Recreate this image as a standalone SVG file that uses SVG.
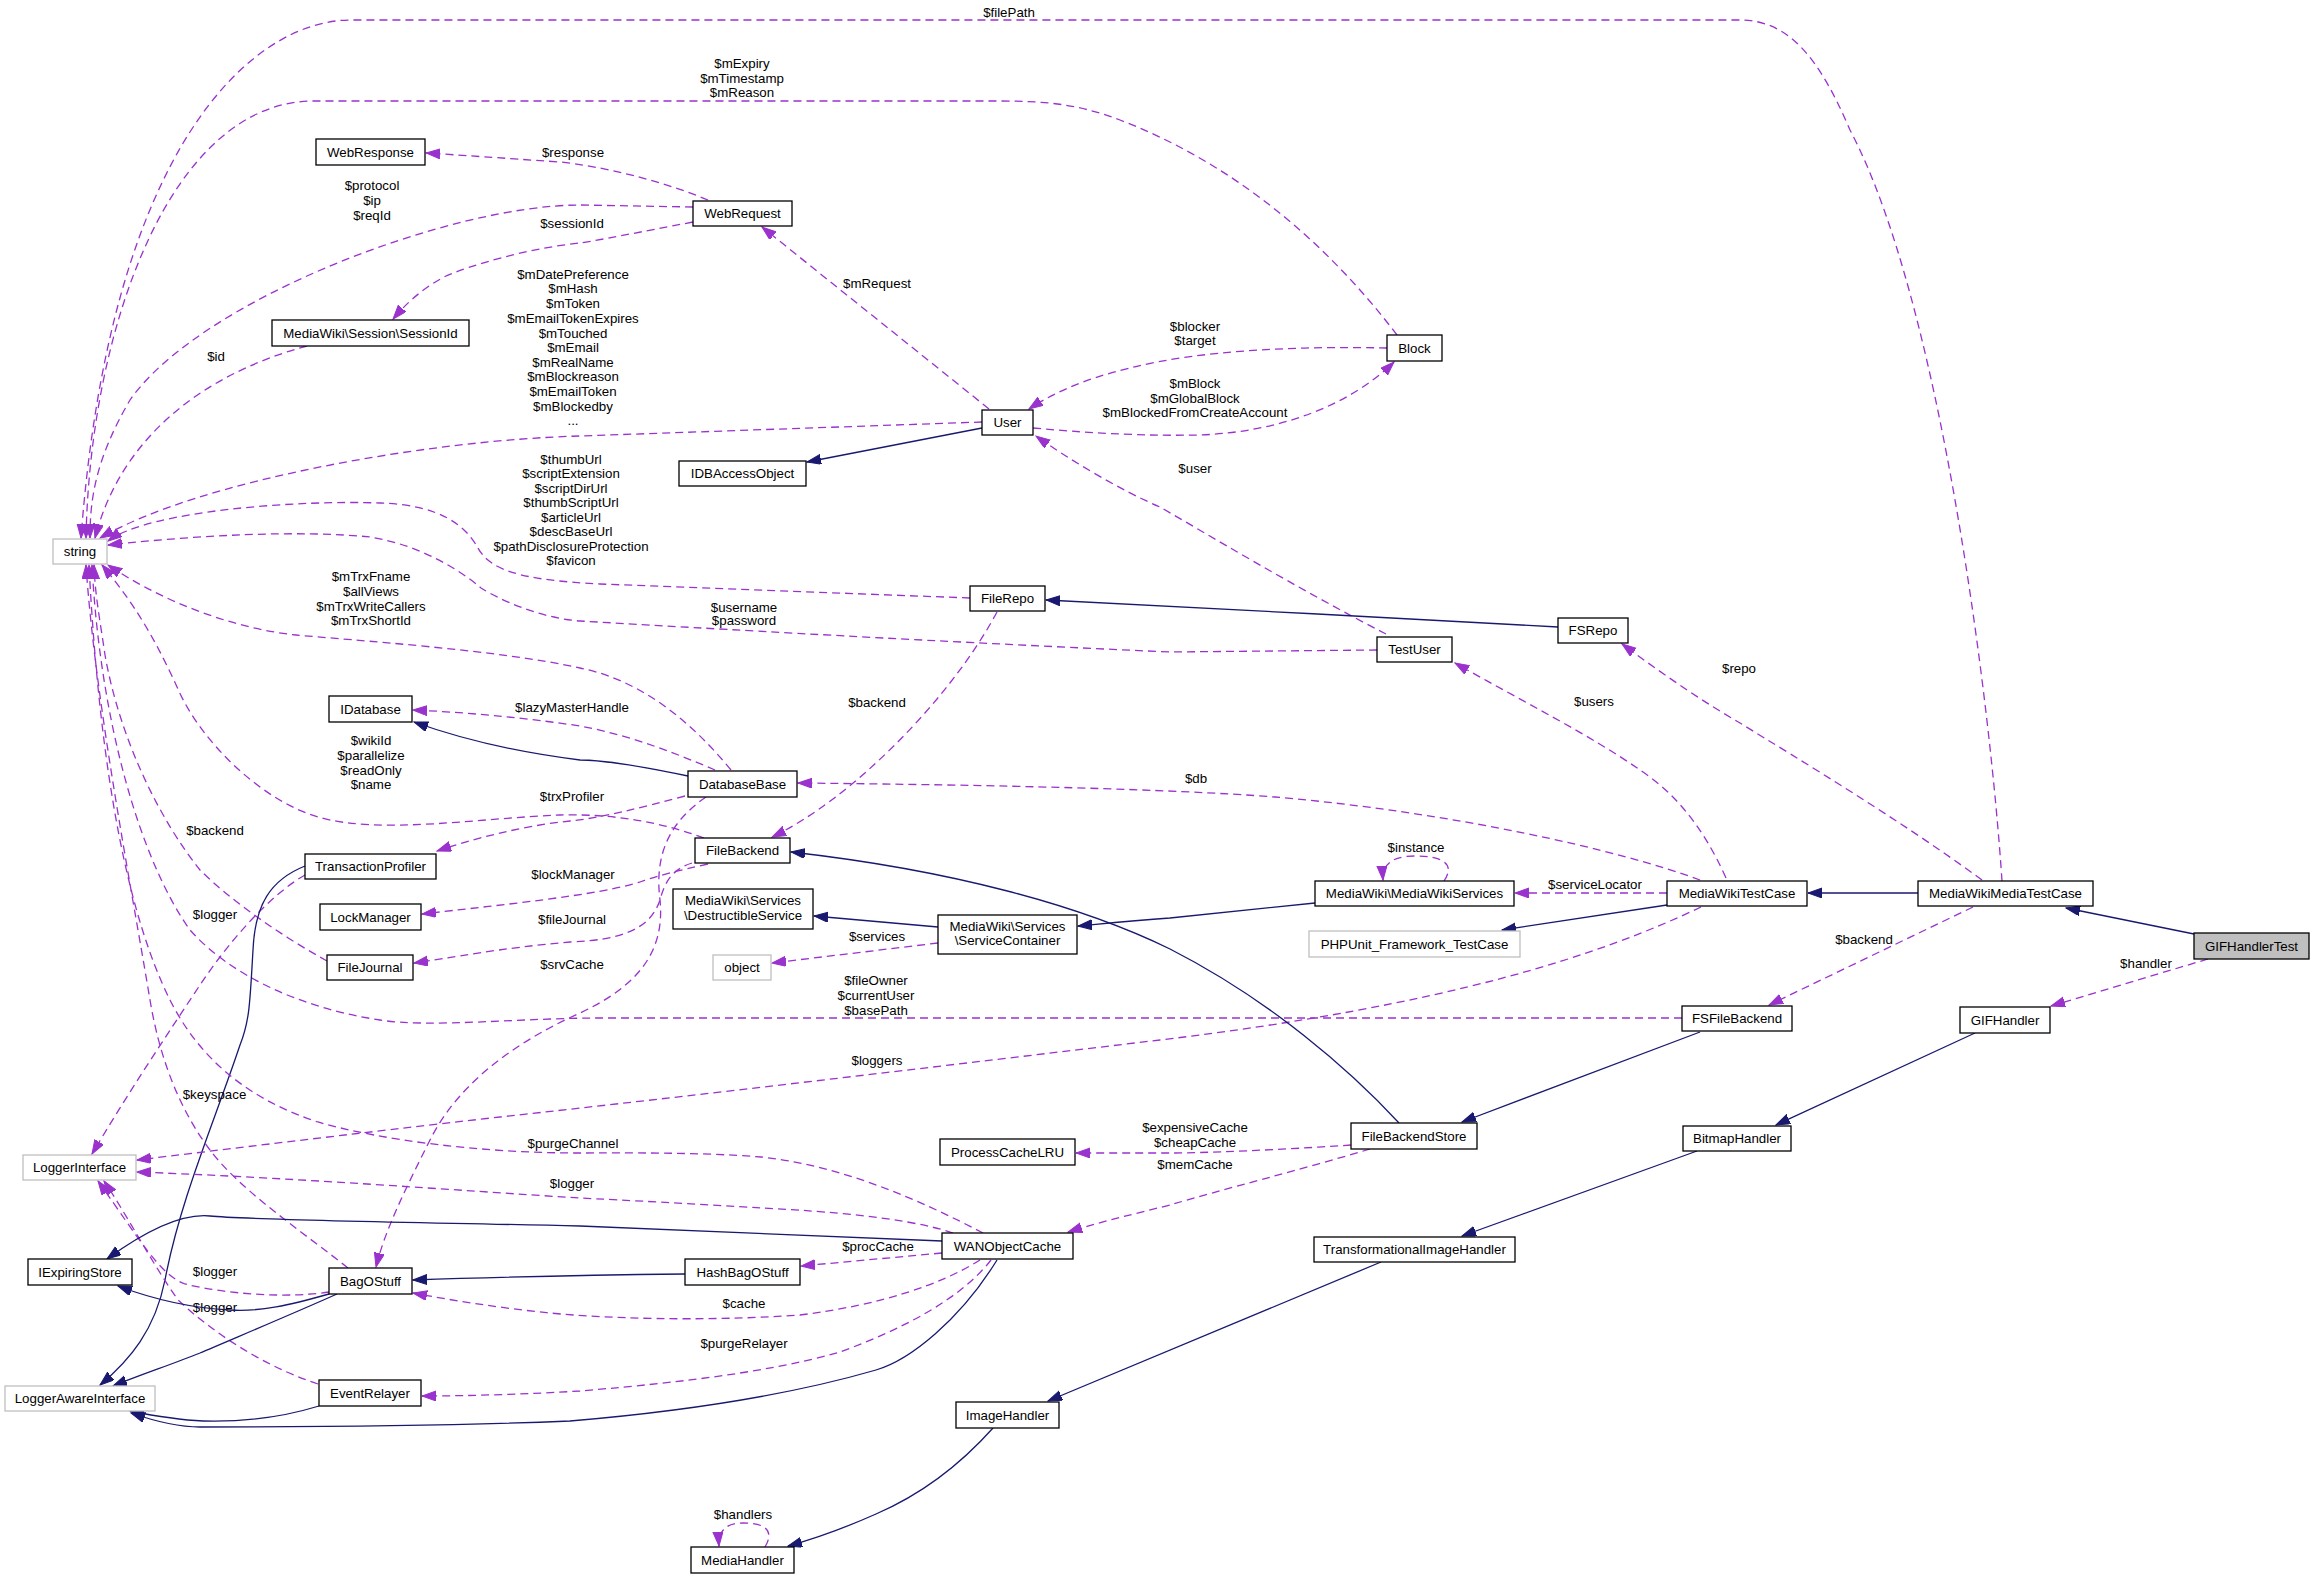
<svg xmlns="http://www.w3.org/2000/svg" width="2315" height="1579" viewBox="0 0 2315 1579">
<style>
.n rect{fill:#fff;stroke:#000;stroke-width:1.3}
.n.g rect{stroke:#bfbfbf}
.n.f rect{fill:#bfbfbf}
text{font-family:"Liberation Sans",Arial,Helvetica,sans-serif;font-size:13.3px;text-anchor:middle;fill:#000}
.u{fill:none;stroke:#9a32cd;stroke-width:1.3;stroke-dasharray:8,5;marker-end:url(#ap)}
.i{fill:none;stroke:#191970;stroke-width:1.3;marker-end:url(#ab)}
</style>
<defs>
<marker id="ap" markerUnits="userSpaceOnUse" markerWidth="15" markerHeight="11" refX="14" refY="5" orient="auto"><path d="M0,0 L14,5 L0,10 z" fill="#9a32cd" stroke="#9a32cd" stroke-width="1"/></marker>
<marker id="ab" markerUnits="userSpaceOnUse" markerWidth="15" markerHeight="11" refX="14" refY="5" orient="auto"><path d="M0,0 L14,5 L0,10 z" fill="#191970" stroke="#191970" stroke-width="1"/></marker>
</defs>
<rect x="0" y="0" width="2315" height="1579" fill="#fff"/>
<g id="connectors">
<g><path class="u" d="M1397,335 C1340,260 1250,170 1120,120 C1080,105 1050,101 1000,101 L314,101 C170,101 90,330 86,538"/><text x="742" y="68">$mExpiry</text><text x="742" y="82.5">$mTimestamp</text><text x="742" y="97">$mReason</text></g>
<g><path class="u" d="M2002,881 C1990,700 1940,300 1850,130 C1820,60 1790,20 1740,20 L351,20 C250,20 110,150 81,538"/><text x="1009" y="16.5">$filePath</text></g>
<g><path class="u" d="M708,200 C660,180 600,166 560,162 C500,158 460,155 426,153"/><text x="573" y="156.5">$response</text></g>
<g><path class="u" d="M693,207 L580,205 C450,205 200,300 130,400 C95,460 90,500 90,538"/><text x="372" y="189.5">$protocol</text><text x="372" y="204.5">$ip</text><text x="372" y="219.5">$reqId</text></g>
<g><path class="u" d="M693,222 C640,232 600,240 580,243 C530,248 470,265 444,277 C420,290 405,305 393,319"/><text x="572" y="227.5">$sessionId</text></g>
<g><path class="u" d="M307,346 C200,375 120,440 95,538"/><text x="216" y="360.5">$id</text></g>
<g><path class="u" d="M989,409 L762,227"/><text x="877" y="287.5">$mRequest</text></g>
<g><path class="u" d="M1033,428 C1100,434 1150,436 1200,435 C1280,432 1350,405 1394,362"/><text x="1195" y="388">$mBlock</text><text x="1195" y="403">$mGlobalBlock</text><text x="1195" y="417">$mBlockedFromCreateAccount</text></g>
<g><path class="u" d="M1387,348 C1300,346 1200,350 1130,368 C1080,380 1050,395 1029,409"/><text x="1195" y="331">$blocker</text><text x="1195" y="345">$target</text></g>
<g><path class="u" d="M982,422 L580,436 C430,440 200,480 100,538"/><text x="573" y="279">$mDatePreference</text><text x="573" y="292.5">$mHash</text><text x="573" y="307.5">$mToken</text><text x="573" y="322.5">$mEmailTokenExpires</text><text x="573" y="337.5">$mTouched</text><text x="573" y="352">$mEmail</text><text x="573" y="366.5">$mRealName</text><text x="573" y="381">$mBlockreason</text><text x="573" y="395.5">$mEmailToken</text><text x="573" y="410.5">$mBlockedby</text><text x="573" y="425">...</text></g>
<g><path class="i" d="M982,428 L807,462"/></g>
<g><path class="u" d="M1386,634 C1300,590 1200,530 1160,507 C1120,490 1070,460 1036,436"/><text x="1195" y="473">$user</text></g>
<g><path class="u" d="M970,598 L600,584 C520,580 490,570 478,548 C465,525 440,505 380,503 C300,500 150,510 108,541"/><text x="571" y="463.5">$thumbUrl</text><text x="571" y="478">$scriptExtension</text><text x="571" y="492.5">$scriptDirUrl</text><text x="571" y="507">$thumbScriptUrl</text><text x="571" y="521.5">$articleUrl</text><text x="571" y="536">$descBaseUrl</text><text x="571" y="550.5">$pathDisclosureProtection</text><text x="571" y="565">$favicon</text></g>
<g><path class="u" d="M1377,650 L1170,652 C900,640 650,625 580,621 C540,618 500,600 481,588 C460,570 420,545 370,537 C300,530 200,535 108,545"/><text x="744" y="611.5">$username</text><text x="744" y="625">$password</text></g>
<g><path class="i" d="M1558,627 C1400,618 1200,608 1046,600"/></g>
<g><path class="u" d="M997,612 C950,700 850,800 772,837"/><text x="877" y="707">$backend</text></g>
<g><path class="u" d="M731,770 C690,720 640,680 580,668 C500,650 350,640 296,635 C230,628 160,600 108,565"/><text x="371" y="581">$mTrxFname</text><text x="371" y="595.5">$allViews</text><text x="371" y="611">$mTrxWriteCallers</text><text x="371" y="625">$mTrxShortId</text></g>
<g><path class="u" d="M715,770 C680,755 630,735 580,726 C520,717 460,712 413,710"/><text x="572" y="712">$lazyMasterHandle</text></g>
<g><path class="i" d="M688,776 C640,766 600,760 580,760 C500,750 450,735 414,722"/></g>
<g><path class="u" d="M704,838 C650,818 600,814 560,815 C480,818 380,835 318,817 C260,800 200,740 178,689 C160,650 140,610 102,565"/><text x="371" y="744.5">$wikiId</text><text x="371" y="760">$parallelize</text><text x="371" y="775">$readOnly</text><text x="371" y="789">$name</text></g>
<g><path class="u" d="M685,796 C640,808 600,818 570,821 C520,826 470,840 437,851"/><text x="572" y="801">$trxProfiler</text></g>
<g><path class="u" d="M708,864 C680,870 660,875 640,882 C600,895 500,905 422,914"/><text x="573" y="878.5">$lockManager</text></g>
<g><path class="u" d="M692,863 C670,870 664,885 660,900 C650,930 620,940 570,942 C500,948 450,958 414,963"/><text x="572" y="923.5">$fileJournal</text></g>
<g><path class="u" d="M706,797 C665,825 655,860 660,900 C665,950 640,985 580,1013 C520,1040 460,1080 430,1140 C405,1190 385,1230 376,1267"/><text x="572" y="969">$srvCache</text></g>
<g><path class="u" d="M1682,1018 L600,1018 C520,1018 430,1028 380,1020 C300,1008 230,975 190,930 C140,860 100,720 92,565"/><text x="876" y="984.5">$fileOwner</text><text x="876" y="1000">$currentUser</text><text x="876" y="1014.5">$basePath</text></g>
<g><path class="u" d="M327,961 C280,935 230,900 200,870 C160,820 120,740 105,655 C100,620 95,595 94,565"/><text x="215" y="834.5">$backend</text></g>
<g><path class="u" d="M305,875 C270,895 230,940 200,985 C170,1030 130,1090 92,1154"/><text x="215" y="919">$logger</text></g>
<g><path class="i" d="M305,866 C270,880 255,905 253,950 C250,1000 250,1020 240,1045 C215,1120 180,1200 165,1280 C155,1330 130,1360 100,1385"/></g>
<g><path class="u" d="M348,1268 C300,1230 240,1190 210,1150 C180,1110 160,1060 150,1000 C130,880 95,700 86,565"/><text x="214.5" y="1098.5">$keyspace</text></g>
<g><path class="u" d="M983,1233 C920,1200 840,1165 761,1157 C700,1152 620,1153 580,1153 C480,1153 380,1140 318,1122 C250,1100 200,1060 170,1000 C130,920 100,780 89,565"/><text x="573" y="1147.5">$purgeChannel</text></g>
<g><path class="u" d="M329,1292 C290,1298 230,1295 185,1284 C160,1275 140,1240 98,1181"/><text x="215" y="1275.5">$logger</text></g>
<g><path class="u" d="M318,1384 C260,1365 210,1330 178,1300 C150,1260 130,1220 104,1181"/><text x="215" y="1312">$logger</text></g>
<g><path class="u" d="M953,1233 C900,1215 800,1210 761,1208 C700,1204 620,1200 580,1198 C450,1190 300,1178 137,1172"/><text x="572" y="1187.5">$logger</text></g>
<g><path class="u" d="M1701,907 C1600,955 1450,1005 1160,1040 C950,1065 700,1095 500,1117 C350,1134 220,1150 137,1160"/><text x="877" y="1065">$loggers</text></g>
<g><path class="u" d="M980,1260 C940,1285 880,1305 800,1315 C700,1322 600,1318 550,1313 C500,1308 450,1300 413,1293"/><text x="744" y="1307.5">$cache</text></g>
<g><path class="u" d="M991,1260 C960,1300 900,1330 840,1352 C760,1375 650,1385 580,1391 C530,1394 470,1396 422,1396"/><text x="744" y="1348">$purgeRelayer</text></g>
<g><path class="u" d="M942,1253 L801,1266"/><text x="878" y="1250.5">$procCache</text></g>
<g><path class="i" d="M942,1241 L580,1226 C400,1222 250,1220 210,1216 C180,1213 140,1235 107,1259"/></g>
<g><path class="i" d="M685,1274 C600,1275 500,1277 413,1280"/></g>
<g><path class="i" d="M329,1294 C290,1305 260,1312 230,1310 C190,1308 150,1298 118,1286"/></g>
<g><path class="i" d="M337,1294 C290,1315 230,1340 200,1353 C170,1365 140,1375 113,1386"/></g>
<g><path class="i" d="M319,1406 C280,1418 240,1422 203,1421 C180,1420 155,1416 130,1411"/></g>
<g><path class="i" d="M997,1260 C960,1320 910,1360 876,1370 C800,1392 700,1410 570,1421 C450,1426 300,1427 200,1427 C180,1427 160,1423 131,1413"/></g>
<g><path class="i" d="M1399,1123 C1350,1070 1270,1000 1170,949 C1080,905 950,870 791,852"/></g>
<g><path class="i" d="M1700,1032 L1462,1122"/></g>
<g><path class="u" d="M1351,1145 C1280,1150 1200,1153 1170,1153 L1076,1153"/><text x="1195" y="1131.5">$expensiveCache</text><text x="1195" y="1147">$cheapCache</text></g>
<g><path class="u" d="M1370,1149 C1300,1170 1220,1190 1170,1205 C1130,1215 1100,1222 1068,1232"/><text x="1195" y="1169">$memCache</text></g>
<g><path class="i" d="M1667,905 L1502,930"/></g>
<g><path class="u" d="M1667,893 L1515,893"/><text x="1595" y="888.5">$serviceLocator</text></g>
<g><path class="u" d="M1444,881 C1455,865 1445,856 1415,856 C1390,856 1382,866 1383,880"/><text x="1416" y="851.5">$instance</text></g>
<g><path class="i" d="M1315,903 C1250,910 1200,915 1170,918 C1130,921 1100,924 1078,926"/></g>
<g><path class="i" d="M938,927 L814,916"/></g>
<g><path class="u" d="M938,943 L772,963"/><text x="877" y="941">$services</text></g>
<g><path class="u" d="M1700,880 C1620,850 1450,812 1275,797 C1170,789 1000,785 798,783"/><text x="1196" y="783">$db</text></g>
<g><path class="u" d="M1726,878 C1700,820 1670,790 1640,770 C1590,735 1520,700 1455,663"/><text x="1594" y="705.5">$users</text></g>
<g><path class="u" d="M1982,880 C1900,820 1800,760 1740,723 C1700,700 1660,672 1622,644"/><text x="1739" y="673">$repo</text></g>
<g><path class="i" d="M1918,893 L1808,893"/></g>
<g><path class="i" d="M2194,934 L2066,908"/></g>
<g><path class="u" d="M1973,907 L1769,1005"/><text x="1864" y="943.5">$backend</text></g>
<g><path class="u" d="M2208,959 L2051,1006"/><text x="2146" y="968">$handler</text></g>
<g><path class="i" d="M1975,1033 L1776,1125"/></g>
<g><path class="i" d="M1697,1151 L1462,1236"/></g>
<g><path class="i" d="M1381,1262 L1048,1401"/></g>
<g><path class="i" d="M993,1428 C960,1465 920,1495 876,1514 C840,1530 810,1540 788,1546"/></g>
<g><path class="u" d="M765,1547 C775,1530 765,1523 743,1523 C725,1523 718,1532 719,1546"/><text x="743" y="1519">$handlers</text></g>
</g>
<g id="n_GIFHandlerTest" class="n f"><rect x="2194" y="933" width="115" height="26"/><text x="2251.5" y="950.6">GIFHandlerTest</text></g>
<g id="n_MediaWikiMediaTestCase" class="n"><rect x="1918" y="881" width="175" height="25"/><text x="2005.5" y="898">MediaWikiMediaTestCase</text></g>
<g id="n_MediaWikiTestCase" class="n"><rect x="1667" y="881" width="140" height="25"/><text x="1737" y="898">MediaWikiTestCase</text></g>
<g id="n_FSRepo" class="n"><rect x="1558" y="618" width="70" height="25"/><text x="1593" y="635">FSRepo</text></g>
<g id="n_FileRepo" class="n"><rect x="970" y="586" width="75" height="25"/><text x="1007.5" y="603">FileRepo</text></g>
<g id="n_string" class="n g"><rect x="53" y="539" width="54" height="25"/><text x="80" y="556">string</text></g>
<g id="n_Block" class="n"><rect x="1387" y="335" width="55" height="26"/><text x="1414.5" y="352.6">Block</text></g>
<g id="n_User" class="n"><rect x="982" y="410" width="51" height="25"/><text x="1007.5" y="427">User</text></g>
<g id="n_WebRequest" class="n"><rect x="693" y="201" width="99" height="25"/><text x="742.5" y="218">WebRequest</text></g>
<g id="n_WebResponse" class="n"><rect x="316" y="139" width="109" height="26"/><text x="370.5" y="156.6">WebResponse</text></g>
<g id="n_SessionId" class="n"><rect x="272" y="320" width="197" height="26"/><text x="370.5" y="337.6">MediaWiki\Session\SessionId</text></g>
<g id="n_IDBAccessObject" class="n"><rect x="679" y="461" width="127" height="25"/><text x="742.5" y="478">IDBAccessObject</text></g>
<g id="n_TestUser" class="n"><rect x="1377" y="637" width="75" height="25"/><text x="1414.5" y="654">TestUser</text></g>
<g id="n_DatabaseBase" class="n"><rect x="688" y="771" width="109" height="26"/><text x="742.5" y="788.6">DatabaseBase</text></g>
<g id="n_IDatabase" class="n"><rect x="329" y="696" width="83" height="26"/><text x="370.5" y="713.6">IDatabase</text></g>
<g id="n_TransactionProfiler" class="n"><rect x="305" y="854" width="131" height="25"/><text x="370.5" y="871">TransactionProfiler</text></g>
<g id="n_LockManager" class="n"><rect x="320" y="904" width="101" height="26"/><text x="370.5" y="921.6">LockManager</text></g>
<g id="n_FileJournal" class="n"><rect x="327" y="955" width="86" height="25"/><text x="370" y="972">FileJournal</text></g>
<g id="n_FileBackend" class="n"><rect x="695" y="838" width="95" height="25"/><text x="742.5" y="855">FileBackend</text></g>
<g id="n_DestructibleService" class="n"><rect x="673" y="889" width="140" height="40"/><text x="743" y="904.5">MediaWiki\Services</text><text x="743" y="920">\DestructibleService</text></g>
<g id="n_ServiceContainer" class="n"><rect x="938" y="915" width="139" height="39"/><text x="1007.5" y="930.5">MediaWiki\Services</text><text x="1007.5" y="945">\ServiceContainer</text></g>
<g id="n_object" class="n g"><rect x="713" y="955" width="58" height="25"/><text x="742" y="972">object</text></g>
<g id="n_MediaWikiServices" class="n"><rect x="1315" y="881" width="199" height="25"/><text x="1414.5" y="898">MediaWiki\MediaWikiServices</text></g>
<g id="n_PHPUnit" class="n g"><rect x="1309" y="931" width="211" height="26"/><text x="1414.5" y="948.6">PHPUnit_Framework_TestCase</text></g>
<g id="n_FSFileBackend" class="n"><rect x="1682" y="1006" width="110" height="25"/><text x="1737" y="1023">FSFileBackend</text></g>
<g id="n_GIFHandler" class="n"><rect x="1960" y="1007" width="90" height="26"/><text x="2005" y="1024.6">GIFHandler</text></g>
<g id="n_FileBackendStore" class="n"><rect x="1351" y="1123" width="126" height="26"/><text x="1414" y="1140.6">FileBackendStore</text></g>
<g id="n_BitmapHandler" class="n"><rect x="1683" y="1126" width="108" height="25"/><text x="1737" y="1143">BitmapHandler</text></g>
<g id="n_TransformationalImageHandler" class="n"><rect x="1314" y="1237" width="201" height="25"/><text x="1414.5" y="1254">TransformationalImageHandler</text></g>
<g id="n_ProcessCacheLRU" class="n"><rect x="940" y="1139" width="135" height="26"/><text x="1007.5" y="1156.6">ProcessCacheLRU</text></g>
<g id="n_WANObjectCache" class="n"><rect x="942" y="1233" width="131" height="26"/><text x="1007.5" y="1250.6">WANObjectCache</text></g>
<g id="n_HashBagOStuff" class="n"><rect x="685" y="1259" width="115" height="26"/><text x="742.5" y="1276.6">HashBagOStuff</text></g>
<g id="n_ImageHandler" class="n"><rect x="956" y="1402" width="103" height="26"/><text x="1007.5" y="1419.6">ImageHandler</text></g>
<g id="n_MediaHandler" class="n"><rect x="691" y="1547" width="103" height="26"/><text x="742.5" y="1564.6">MediaHandler</text></g>
<g id="n_LoggerInterface" class="n g"><rect x="23" y="1155" width="113" height="25"/><text x="79.5" y="1172">LoggerInterface</text></g>
<g id="n_IExpiringStore" class="n"><rect x="28" y="1259" width="104" height="26"/><text x="80" y="1276.6">IExpiringStore</text></g>
<g id="n_LoggerAwareInterface" class="n g"><rect x="5" y="1386" width="150" height="25"/><text x="80" y="1403">LoggerAwareInterface</text></g>
<g id="n_BagOStuff" class="n"><rect x="329" y="1268" width="83" height="26"/><text x="370.5" y="1285.6">BagOStuff</text></g>
<g id="n_EventRelayer" class="n"><rect x="319" y="1380" width="102" height="26"/><text x="370" y="1397.6">EventRelayer</text></g>
</svg>
